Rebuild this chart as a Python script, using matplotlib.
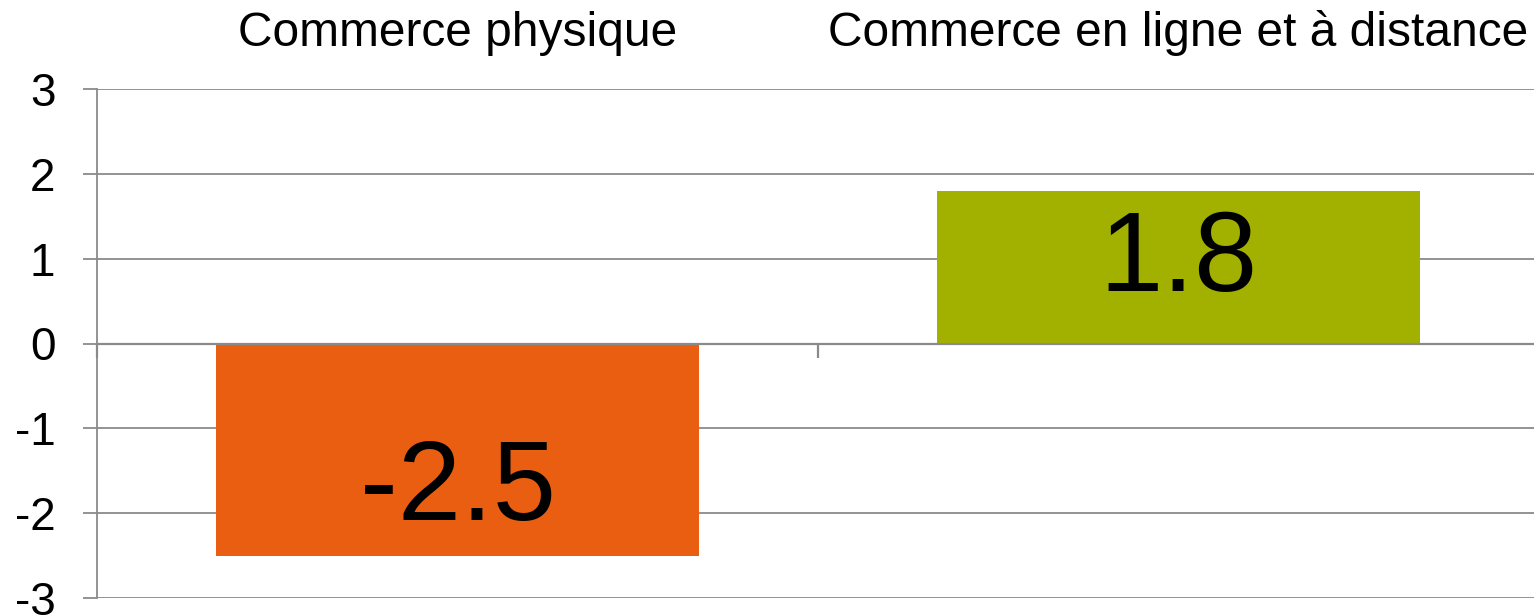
import matplotlib
matplotlib.use("Agg")
from matplotlib import pyplot

categories = ["Commerce physique", "Commerce en ligne et à distance"]
values = [-2.5, 1.8]
value_labels = ["-2.5", "1.8"]
bar_colors = ["#E95E10", "#A2B000"]
y_ticks = [-3, -2, -1, 0, 1, 2, 3]

pyplot.rcParams["font.family"] = ["Liberation Sans", "DejaVu Sans"]
pyplot.rcParams["axes.unicode_minus"] = False

grey = "#8a8a8a"

fig = pyplot.figure(figsize=(15.34, 6.15), dpi=100)
ax = fig.add_axes([97 / 1534, 17 / 615, 1442 / 1534, 509 / 615])

x = list(range(len(categories)))
ax.bar(x, values, width=0.67, color=bar_colors, zorder=3)

ax.set_xlim(-0.5, len(categories) - 0.5)
ax.set_ylim(min(y_ticks), max(y_ticks))
ax.set_yticks(y_ticks)
ax.set_yticklabels([str(t) for t in y_ticks])
ax.grid(axis="y", color=grey, linewidth=1.3, zorder=0)

# x axis crosses at zero, ticks on category boundaries
ax.spines["bottom"].set_position(("data", 0))
ax.spines["bottom"].set_color(grey)
ax.spines["bottom"].set_linewidth(1.6)
ax.spines["bottom"].set_zorder(4)
ax.spines["left"].set_color(grey)
ax.spines["left"].set_linewidth(1.3)
ax.spines["top"].set_visible(False)
ax.spines["right"].set_visible(False)
ax.set_xticks([i - 0.5 for i in range(len(categories) + 1)])
ax.set_xticklabels([])
ax.tick_params(axis="x", direction="out", length=10, width=1.6, color=grey)
ax.tick_params(axis="y", direction="out", length=10, width=1.3, color=grey,
               labelsize=33, pad=20)

# category names above the plot
for i, name in enumerate(categories):
    ax.text(i, 1.0845, name, transform=ax.get_xaxis_transform(),
            ha="center", va="baseline", fontsize=34.5)

# value labels inside the bars
for i, (v, lab) in enumerate(zip(values, value_labels)):
    offset = 5 if v >= 0 else -41
    ax.annotate(lab, xy=(i, v / 2), xytext=(0, offset * 0.72),
                textcoords="offset points", ha="center", va="center",
                fontsize=82, zorder=5)

fig.savefig("out.png", dpi=100)
